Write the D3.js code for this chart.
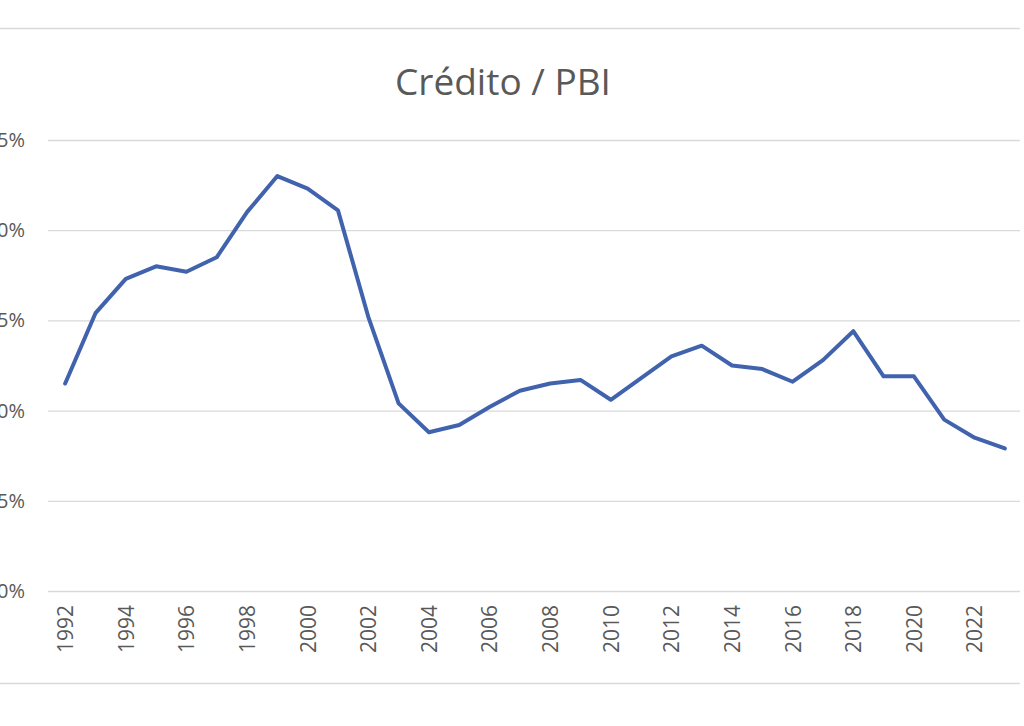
<!DOCTYPE html>
<html>
<head>
<meta charset="utf-8">
<script src="https://cdn.jsdelivr.net/npm/d3@7"></script>
<style>
  html, body { margin: 0; padding: 0; background: #ffffff; }
  svg { display: block; }
  text { font-family: "Open Sans", "Liberation Sans", sans-serif; fill: #595959; }
</style>
</head>
<body>
<svg id="chart" width="1024" height="726"></svg>
<script>
const title = "Crédito / PBI";
const years = [1992,1993,1994,1995,1996,1997,1998,1999,2000,2001,2002,2003,2004,2005,2006,2007,
               2008,2009,2010,2011,2012,2013,2014,2015,2016,2017,2018,2019,2020,2021,2022,2023];
const creditoPBI = [11.5,15.4,17.3,18.0,17.7,18.5,21.0,23.0,22.3,21.1,15.2,10.4,8.8,9.2,10.2,11.1,
                    11.5,11.7,10.6,11.8,13.0,13.6,12.5,12.3,11.6,12.8,14.4,11.9,11.9,9.5,8.5,7.9];
const yTicks = [0,5,10,15,20,25];
const xTickYears = years.filter(y => y % 2 === 0);

const svg = d3.select("#chart");

const plotLeft = 50, plotRight = 1020, plotTop = 140, plotBottom = 591;

const x = d3.scalePoint().domain(years).range([plotLeft, plotRight]).padding(0.5);
const y = d3.scaleLinear().domain([0, 25]).range([plotBottom, plotTop]);

// frame lines
svg.append("line").attr("x1", 0).attr("x2", 1020).attr("y1", 28.5).attr("y2", 28.5)
  .attr("stroke", "#d9d9d9").attr("stroke-width", 1.5);
svg.append("line").attr("x1", 0).attr("x2", 1020).attr("y1", 683.5).attr("y2", 683.5)
  .attr("stroke", "#d9d9d9").attr("stroke-width", 1.5);

// title
svg.append("text").attr("x", 503).attr("y", 95).attr("text-anchor", "middle")
  .style("font-size", "37px").text(title);

// y grid + labels
const yAxis = d3.axisLeft(y).tickValues(yTicks).tickSize(-(plotRight - 48)).tickFormat(d => d + "%").tickPadding(23);
const gy = svg.append("g").attr("transform", `translate(48,0)`).call(yAxis);
gy.select(".domain").remove();
gy.selectAll(".tick line").attr("stroke", "#d9d9d9").attr("stroke-width", 1.3);
gy.selectAll(".tick text").style("font-size", "20px").attr("fill", "#595959");

// x axis labels
const xAxis = d3.axisBottom(x).tickValues(xTickYears).tickSize(0).tickPadding(0);
const gx = svg.append("g").attr("transform", `translate(0,${plotBottom})`).call(xAxis);
gx.select(".domain").remove();
gx.selectAll(".tick text")
  .attr("transform", "translate(0,14) rotate(-90)")
  .attr("text-anchor", "end")
  .attr("x", 0).attr("y", 0).attr("dy", "0.35em")
  .style("font-size", "21px").attr("fill", "#595959");

// line
const line = d3.line().x((d, i) => x(years[i])).y(d => y(d));
svg.append("path").datum(creditoPBI)
  .attr("d", line)
  .attr("fill", "none")
  .attr("stroke", "#4163ad")
  .attr("stroke-width", 4)
  .attr("stroke-linejoin", "round")
  .attr("stroke-linecap", "round");
</script>
</body>
</html>
